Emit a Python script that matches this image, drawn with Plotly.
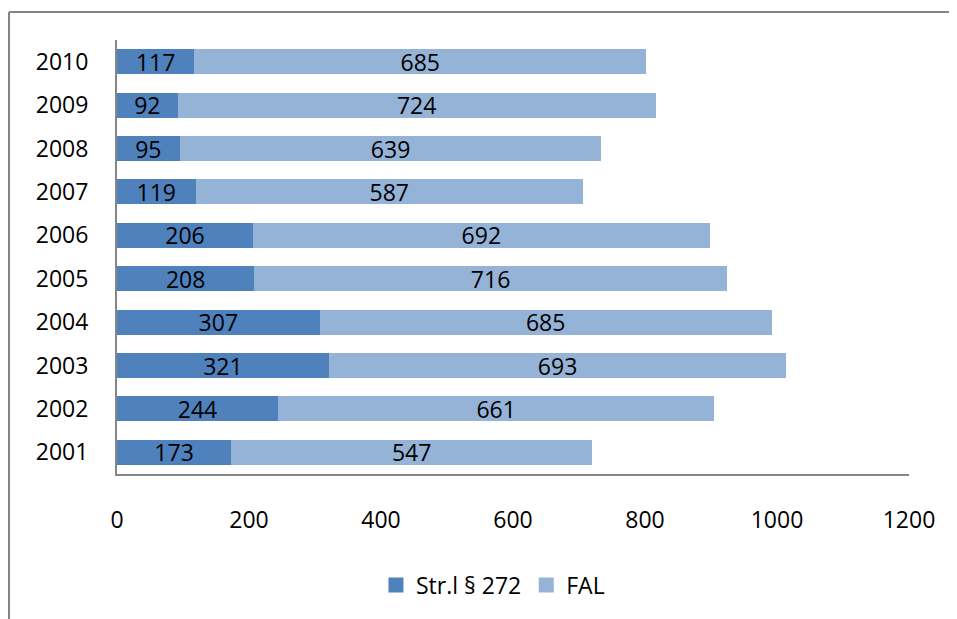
import plotly.graph_objects as go

years = ["2001", "2002", "2003", "2004", "2005", "2006", "2007", "2008", "2009", "2010"]
strl = [173, 244, 321, 307, 208, 206, 119, 95, 92, 117]
fal = [547, 661, 693, 685, 716, 692, 587, 639, 724, 685]
x_ticks = [0, 200, 400, 600, 800, 1000, 1200]
series_names = ["Str.l § 272", "FAL"]
series_colors = ["#4F81BD", "#95B3D7"]

FONT = "Open Sans"
FS = 23
fig = go.Figure()
for vals, name, col in zip([strl, fal], series_names, series_colors):
    fig.add_trace(go.Bar(
        y=years, x=vals, orientation="h", name=name, showlegend=False,
        marker=dict(color=col, line=dict(width=0)),
        text=[str(v) for v in vals], textposition="inside", insidetextanchor="middle",
        textangle=0,
        textfont=dict(color="black", size=FS, family=FONT), constraintext="none",
    ))
# legend proxies (square swatches)
for name, col in zip(series_names, series_colors):
    fig.add_trace(go.Scatter(
        x=[None], y=[None], mode="markers", name=name, showlegend=True,
        marker=dict(symbol="square", size=15, color=col),
    ))

fx0 = (9 - 117) / 792
fx1 = (960 - 117) / 792
fy1 = (474 - 12) / 434
fig.update_layout(
    barmode="stack", bargap=0.42,
    width=949, height=611,
    margin=dict(l=109, r=48, t=32, b=145),
    paper_bgcolor="white", plot_bgcolor="white",
    font=dict(family=FONT, size=FS, color="black"),
    showlegend=True,
    legend=dict(orientation="h", xref="container", yref="container",
                x=0.511, xanchor="center", y=0.0556, yanchor="middle",
                font=dict(size=FS, family=FONT), itemwidth=30,
                traceorder="normal"),
    xaxis=dict(range=[0, 1200], tickvals=x_ticks, ticktext=[str(t) for t in x_ticks],
               showgrid=False, zeroline=False, showline=True, linecolor="#868686",
               linewidth=2, ticks="", ticklabelstandoff=24, fixedrange=True),
    yaxis=dict(categoryorder="array", categoryarray=years, showgrid=False,
               showline=True, linecolor="#868686", linewidth=2, ticks="",
               ticklabelstandoff=22, fixedrange=True),
    shapes=[
        dict(type="line", xref="paper", yref="paper", x0=fx0, x1=fx1, y0=fy1, y1=fy1,
             line=dict(color="#868686", width=2), layer="below"),
        dict(type="line", xref="paper", yref="paper", x0=fx0, x1=fx0, y0=-0.4, y1=fy1,
             line=dict(color="#868686", width=2), layer="below"),
    ],
)

fig.write_html("out.html")
